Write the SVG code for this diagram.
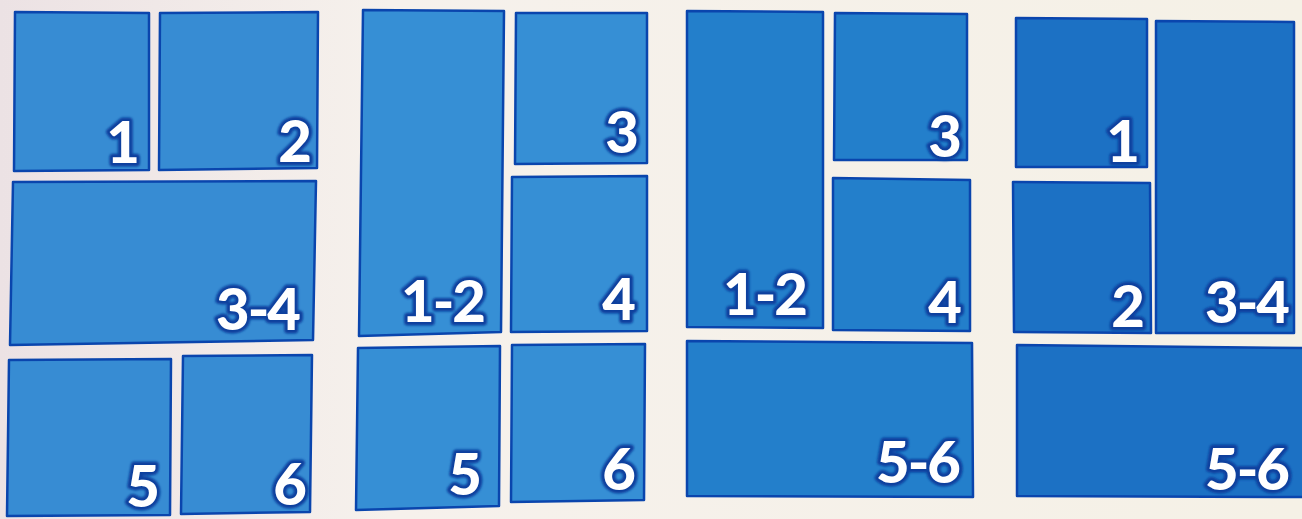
<svg xmlns="http://www.w3.org/2000/svg" width="1302" height="519" viewBox="0 0 1302 519">
<defs>
<linearGradient id="bg" x1="0" y1="0" x2="1" y2="0">
<stop offset="0" stop-color="#ece2e4"/>
<stop offset="0.3" stop-color="#f6f1ec"/>
<stop offset="1" stop-color="#f5f1e6"/>
</linearGradient>
<filter id="glow" x="-20%" y="-20%" width="140%" height="140%">
<feGaussianBlur stdDeviation="1.2"/>
</filter>
</defs>
<style>
.p { stroke: #0a45ad; stroke-width: 2.5; stroke-linejoin: round; }
.g1 .p { fill: #378cd3; }
.g2 .p { fill: #368fd5; }
.g3 .p { fill: #237fcb; }
.g4 .p { fill: #1c71c4; }
.h { font-family: Lato, "Open Sans", sans-serif; font-weight: 900; font-size: 58px; text-anchor: end; fill: #0d3f9e; stroke: #0d3f9e; stroke-width: 7; stroke-linejoin: round; filter: url(#glow); letter-spacing: -2px; }
.t { font-family: Lato, "Open Sans", sans-serif; font-weight: 900; font-size: 58px; text-anchor: end; fill: #ffffff; letter-spacing: -2px; }
</style>
<rect width="1302" height="519" fill="url(#bg)"/>

<g id="layout1" class="g1">
<g id="l1-p1"><polygon class="p" points="15,12 149,13 149,170 14,171"/><text class="h" x="138" y="163">1</text><text class="t" x="138" y="163">1</text></g>
<g id="l1-p2"><polygon class="p" points="160,13 318,12 317,168 159,170"/><text class="h" x="310" y="162">2</text><text class="t" x="310" y="162">2</text></g>
<g id="l1-p34"><polygon class="p" points="13,182 316,181 313,340 10,345"/><text class="h" x="299" y="330">3-4</text><text class="t" x="299" y="330">3-4</text></g>
<g id="l1-p5"><polygon class="p" points="9,360 171,359 170,515 7,516"/><text class="h" x="158" y="507">5</text><text class="t" x="158" y="507">5</text></g>
<g id="l1-p6"><polygon class="p" points="183,356 312,355 310,512 181,514"/><text class="h" x="305" y="505">6</text><text class="t" x="305" y="505">6</text></g>
</g>

<g id="layout2" class="g2">
<g id="l2-p12"><polygon class="p" points="363,10 504,11 501,332 359,336"/><text class="h" x="484" y="322">1-2</text><text class="t" x="484" y="322">1-2</text></g>
<g id="l2-p3"><polygon class="p" points="516,13 647,13 647,163 515,164"/><text class="h" x="637" y="153">3</text><text class="t" x="637" y="153">3</text></g>
<g id="l2-p4"><polygon class="p" points="512,177 647,176 647,331 511,332"/><text class="h" x="634" y="320">4</text><text class="t" x="634" y="320">4</text></g>
<g id="l2-p5"><polygon class="p" points="358,348 500,346 499,506 356,510"/><text class="h" x="480" y="495">5</text><text class="t" x="480" y="495">5</text></g>
<g id="l2-p6"><polygon class="p" points="512,345 645,344 644,500 511,502"/><text class="h" x="634" y="490">6</text><text class="t" x="634" y="490">6</text></g>
</g>

<g id="layout3" class="g3">
<g id="l3-p12"><polygon class="p" points="687,11 823,12 823,328 687,327"/><text class="h" x="806" y="315">1-2</text><text class="t" x="806" y="315">1-2</text></g>
<g id="l3-p3"><polygon class="p" points="835,13 967,14 967,160 834,160"/><text class="h" x="960" y="157">3</text><text class="t" x="960" y="157">3</text></g>
<g id="l3-p4"><polygon class="p" points="833,178 970,180 970,331 833,330"/><text class="h" x="960" y="323">4</text><text class="t" x="960" y="323">4</text></g>
<g id="l3-p56"><polygon class="p" points="687,341 972,343 973,497 687,496"/><text class="h" x="959" y="483">5-6</text><text class="t" x="959" y="483">5-6</text></g>
</g>

<g id="layout4" class="g4">
<g id="l4-p1"><polygon class="p" points="1016,18 1147,19 1147,167 1016,167"/><text class="h" x="1138" y="162">1</text><text class="t" x="1138" y="162">1</text></g>
<g id="l4-p34"><polygon class="p" points="1156,21 1294,22 1294,333 1156,333"/><text class="h" x="1288" y="323">3-4</text><text class="t" x="1288" y="323">3-4</text></g>
<g id="l4-p2"><polygon class="p" points="1013,182 1150,183 1151,333 1014,332"/><text class="h" x="1143" y="327">2</text><text class="t" x="1143" y="327">2</text></g>
<g id="l4-p56"><polygon class="p" points="1017,345 1304,348 1304,497 1017,496"/><text class="h" x="1288" y="490">5-6</text><text class="t" x="1288" y="490">5-6</text></g>
</g>

<g id="connectors"/>
</svg>
